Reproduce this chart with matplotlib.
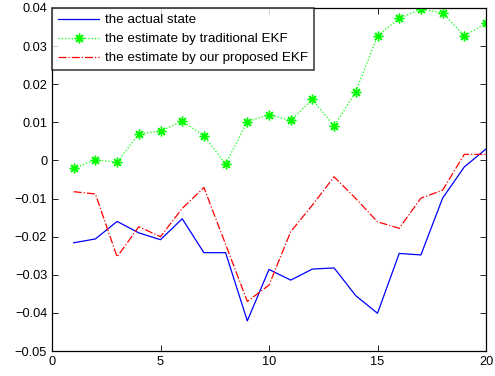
import matplotlib
matplotlib.use("Agg")
import matplotlib.pyplot as plt

plt.rcParams['font.family'] = ['Liberation Sans', 'DejaVu Sans']

x = list(range(1, 21))
actual = [-0.0216, -0.0206, -0.0160, -0.0190, -0.0208, -0.0153, -0.0242, -0.0242, -0.0421, -0.0286,
          -0.0314, -0.0285, -0.0282, -0.0355, -0.0401, -0.0244, -0.0248, -0.0099, -0.0017, 0.0030]
traditional = [-0.0021, 0.0002, -0.0005, 0.0070, 0.0077, 0.0103, 0.0065, -0.0010, 0.0102, 0.0120,
               0.0105, 0.0160, 0.0090, 0.0180, 0.0327, 0.0373, 0.0397, 0.0387, 0.0327, 0.0360]
proposed = [-0.0082, -0.0088, -0.0253, -0.0174, -0.0200, -0.0126, -0.0071, -0.0220, -0.0370, -0.0327,
            -0.0187, -0.0117, -0.0043, -0.0100, -0.0161, -0.0178, -0.0099, -0.0078, 0.0016, 0.0016]
labels = ["the actual state", "the estimate by traditional EKF", "the estimate by our proposed EKF"]

fig = plt.figure(figsize=(4.95, 3.76), dpi=100)
ax = fig.add_axes([52/495, 1 - 351/376, (486-52)/495, (351-8)/376])

ax.plot(x, actual, color='#0000ff', lw=0.9, label=labels[0])
ax.plot(x, traditional, color='#00ff00', ls=':', lw=0.9, marker=(8, 2, 0), markersize=7,
        markeredgewidth=1.0, label=labels[1])
ax.plot(x, proposed, color='#ff0000', ls='-.', lw=0.9, label=labels[2])

ax.set_xlim(0, 20)
ax.set_ylim(-0.05, 0.04)
ax.set_xticks([0, 5, 10, 15, 20])
ax.set_yticks([-0.05, -0.04, -0.03, -0.02, -0.01, 0, 0.01, 0.02, 0.03, 0.04])
ax.set_yticklabels(['\u22120.05', '\u22120.04', '\u22120.03', '\u22120.02', '\u22120.01', '0',
                    '0.01', '0.02', '0.03', '0.04'])
ax.tick_params(direction='in', top=True, right=True, labelsize=9.2, length=4, width=0.6)
for s in ax.spines.values():
    s.set_linewidth(0.9)

leg = ax.legend(loc='upper left', prop={'size': 9.6}, frameon=True, fancybox=False,
                edgecolor='black', borderaxespad=0.0, handlelength=3.1,
                labelspacing=0.5, borderpad=0.45, handletextpad=0.4)
leg.get_frame().set_linewidth(1.1)

fig.savefig("out.png", dpi=100)
